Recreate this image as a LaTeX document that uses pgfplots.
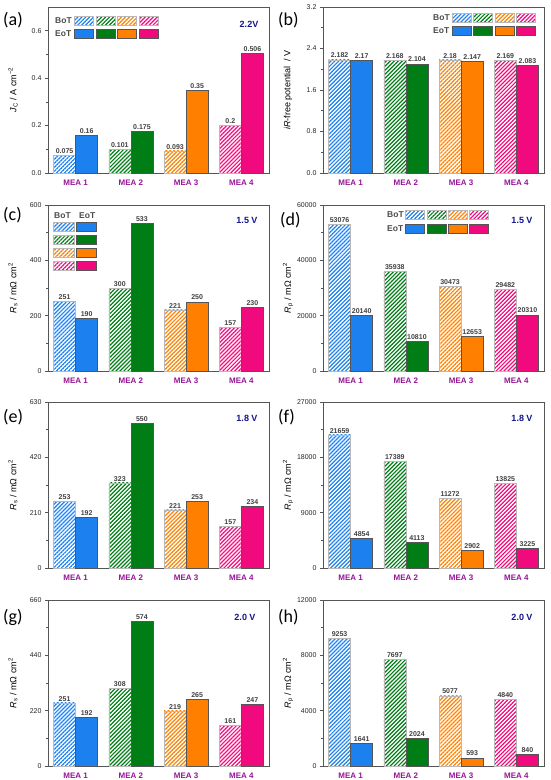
\documentclass[border=0pt]{standalone}
\usepackage{pgfplots}
\pgfplotsset{compat=1.18}
\usetikzlibrary{patterns.meta}
\usepackage{fontspec}
\setmainfont{Liberation Sans}
\newfontfamily\carlito{Carlito}
\definecolor{mblue}{RGB}{28,128,238}
\definecolor{mgreen}{RGB}{0,125,20}
\definecolor{morange}{RGB}{255,128,0}
\definecolor{mpink}{RGB}{240,10,125}
\definecolor{catpurple}{RGB}{150,20,150}
\definecolor{vnavy}{RGB}{20,20,140}
\definecolor{framegray}{RGB}{85,85,85}
\pgfplotsset{
 panel/.style={
  scale only axis, width=221pt, height=166pt,
  xmin=0.5, xmax=4.5, ymin=0,
  xtick={1,2,3,4}, xticklabels={MEA 1,MEA 2,MEA 3,MEA 4},
  x tick label style={font=\fontsize{8}{9}\selectfont\bfseries, text=catpurple},
  major x tick style={draw=none},
  ytick pos=left, tick align=outside,
  minor y tick num=1,
  major tick length=3pt, minor tick length=1.8pt,
  axis line style={framegray, line width=0.8pt},
  tick style={framegray, line width=0.6pt},
  scaled y ticks=false,
  ylabel style={font=\fontsize{9}{10}\selectfont, at={([xshift=-35pt]rel axis cs:0,0.5)}, anchor=center},
  nodes near coords={\pgfmathprintnumber[fixed,precision=3,1000 sep={},assume math mode=true]{\pgfplotspointmeta}},
  every node near coord/.append style={font=\fontsize{7}{8}\selectfont\bfseries, text=black!75, inner sep=1.5pt},
  clip=false,
  y tick label style={font=\fontsize{7}{8}\selectfont, text=black!85, /pgf/number format/.cd, fixed, 1000 sep={}, assume math mode=true},
 },
 onedec/.style={y tick label style={/pgf/number format/fixed zerofill,/pgf/number format/precision=1}},
 bot/.style={ybar, bar width=0.4, bar shift=0pt, draw=gray!55, line width=0.5pt, pattern={Lines[angle=45,distance=2.8pt,line width=1.2pt]}, pattern color=#1},
 eot/.style={ybar, bar width=0.4, bar shift=0pt, draw=framegray, line width=0.6pt, fill=#1},
}
\newcommand\fourpairs[8]{%
 \addplot[bot=mblue] coordinates {(0.8,#1)};
 \addplot[bot=mgreen] coordinates {(1.8,#2)};
 \addplot[bot=morange] coordinates {(2.8,#3)};
 \addplot[bot=mpink] coordinates {(3.8,#4)};
 \addplot[eot=mblue] coordinates {(1.2,#5)};
 \addplot[eot=mgreen] coordinates {(2.2,#6)};
 \addplot[eot=morange] coordinates {(3.2,#7)};
 \addplot[eot=mpink] coordinates {(4.2,#8)};
}
\newcommand\hsw[4]{\draw[gray!55, line width=0.5pt, pattern={Lines[angle=45,distance=2.8pt,line width=1.2pt]}, pattern color=#4] (#1pt,-#2pt) rectangle ++(#3pt,-9.5pt);}
\newcommand\ssw[4]{\draw[framegray, line width=0.6pt, fill=#4] (#1pt,-#2pt) rectangle ++(#3pt,-9.5pt);}
\newcommand\lgtxt[3]{\node[anchor=west, inner sep=0pt, font=\fontsize{8.5}{9}\selectfont\bfseries, text=black!70] at (#1pt,-#2pt) {#3};}
\newcommand\volt[3]{\node[font=\fontsize{9}{10}\selectfont\bfseries, text=vnavy] at (#1pt,-#2pt) {#3};}
\newcommand\plab[3]{\node[anchor=west, inner sep=0pt, font=\carlito\fontsize{18}{20}\selectfont] at (#1pt,-#2pt) {#3};}
\begin{document}
\begin{tikzpicture}
\path[use as bounding box] (0,0) rectangle (550pt,-780pt);
% (a)
\begin{axis}[panel, onedec, at={(48pt,-173pt)}, anchor=south west, ymax=0.7, ytick={0,0.2,0.4,0.6},
 ylabel={\textit{J}\textsubscript{C} / A cm\textsuperscript{−2}}]
\fourpairs{0.075}{0.101}{0.093}{0.2}{0.16}{0.175}{0.35}{0.506}
\end{axis}
% (b)
\begin{axis}[panel, onedec, at={(323pt,-173pt)}, anchor=south west, ymax=3.2, ytick={0,0.8,1.6,2.4,3.2},
 ylabel={\textit{iR}-free potential~ / V}]
\fourpairs{2.182}{2.168}{2.18}{2.169}{2.17}{2.104}{2.147}{2.083}
\end{axis}
% (c)
\begin{axis}[panel, at={(48pt,-371pt)}, anchor=south west, ymax=600, ytick={0,200,400,600},
 ylabel={\textit{R}\textsubscript{s} / mΩ cm\textsuperscript{2}}]
\fourpairs{251}{300}{221}{157}{190}{533}{250}{230}
\end{axis}
% (d)
\begin{axis}[panel, at={(323pt,-371pt)}, anchor=south west, ymax=60000, ytick={0,20000,40000,60000},
 ylabel={\textit{R}\textsubscript{p} / mΩ cm\textsuperscript{2}}]
\fourpairs{53076}{35938}{30473}{29482}{20140}{10810}{12653}{20310}
\end{axis}
% (e)
\begin{axis}[panel, at={(48pt,-568pt)}, anchor=south west, ymax=630, ytick={0,210,420,630},
 ylabel={\textit{R}\textsubscript{s} / mΩ cm\textsuperscript{2}}]
\fourpairs{253}{323}{221}{157}{192}{550}{253}{234}
\end{axis}
% (f)
\begin{axis}[panel, at={(323pt,-568pt)}, anchor=south west, ymax=27000, ytick={0,9000,18000,27000},
 ylabel={\textit{R}\textsubscript{p} / mΩ cm\textsuperscript{2}}]
\fourpairs{21659}{17389}{11272}{13825}{4854}{4113}{2902}{3225}
\end{axis}
% (g)
\begin{axis}[panel, at={(48pt,-766pt)}, anchor=south west, ymax=660, ytick={0,220,440,660},
 ylabel={\textit{R}\textsubscript{s} / mΩ cm\textsuperscript{2}}]
\fourpairs{251}{308}{219}{161}{192}{574}{265}{247}
\end{axis}
% (h)
\begin{axis}[panel, at={(323pt,-766pt)}, anchor=south west, ymax=12000, ytick={0,4000,8000,12000},
 ylabel={\textit{R}\textsubscript{p} / mΩ cm\textsuperscript{2}}]
\fourpairs{9253}{7697}{5077}{4840}{1641}{2024}{593}{840}
\end{axis}
% legends (a)
\lgtxt{55}{21}{BoT}\lgtxt{55}{34}{EoT}
\hsw{74}{16}{19}{mblue}\hsw{96}{16}{19}{mgreen}\hsw{117}{16}{19}{morange}\hsw{139}{16}{19}{mpink}
\ssw{74}{29}{19}{mblue}\ssw{96}{29}{19}{mgreen}\ssw{117}{29}{19}{morange}\ssw{139}{29}{19}{mpink}
% legends (b)
\lgtxt{433}{17.5}{BoT}\lgtxt{433}{30.5}{EoT}
\hsw{452}{13}{19}{mblue}\hsw{473}{13}{19}{mgreen}\hsw{495}{13}{19}{morange}\hsw{516}{13}{19}{mpink}
\ssw{452}{26}{19}{mblue}\ssw{473}{26}{19}{mgreen}\ssw{495}{26}{19}{morange}\ssw{516}{26}{19}{mpink}
% legends (c)
\lgtxt{54}{216}{BoT}\lgtxt{79}{216}{EoT}
\hsw{53}{222}{21}{mblue}\ssw{76}{222}{20}{mblue}
\hsw{53}{235}{21}{mgreen}\ssw{76}{235}{20}{mgreen}
\hsw{53}{248}{21}{morange}\ssw{76}{248}{20}{morange}
\hsw{53}{261}{21}{mpink}\ssw{76}{261}{20}{mpink}
% legends (d)
\lgtxt{387}{215}{BoT}\lgtxt{387}{228.5}{EoT}
\hsw{405}{210}{19}{mblue}\hsw{427}{210}{19}{mgreen}\hsw{448}{210}{19}{morange}\hsw{469}{210}{19}{mpink}
\ssw{405}{224}{19}{mblue}\ssw{427}{224}{19}{mgreen}\ssw{448}{224}{19}{morange}\ssw{469}{224}{19}{mpink}
% voltage labels
\volt{249}{24}{2.2V}
\volt{247}{220}{1.5 V}\volt{522}{220}{1.5 V}
\volt{247}{418}{1.8 V}\volt{522}{418}{1.8 V}
\volt{245}{617}{2.0 V}\volt{522}{617}{2.0 V}
% panel labels
\plab{3}{20}{(a)}\plab{278}{20}{(b)}
\plab{3}{215}{(c)}\plab{280}{220}{(d)}
\plab{3}{417}{(e)}\plab{278}{417}{(f)}
\plab{3}{617}{(g)}\plab{278}{617}{(h)}
\end{tikzpicture}
\end{document}
